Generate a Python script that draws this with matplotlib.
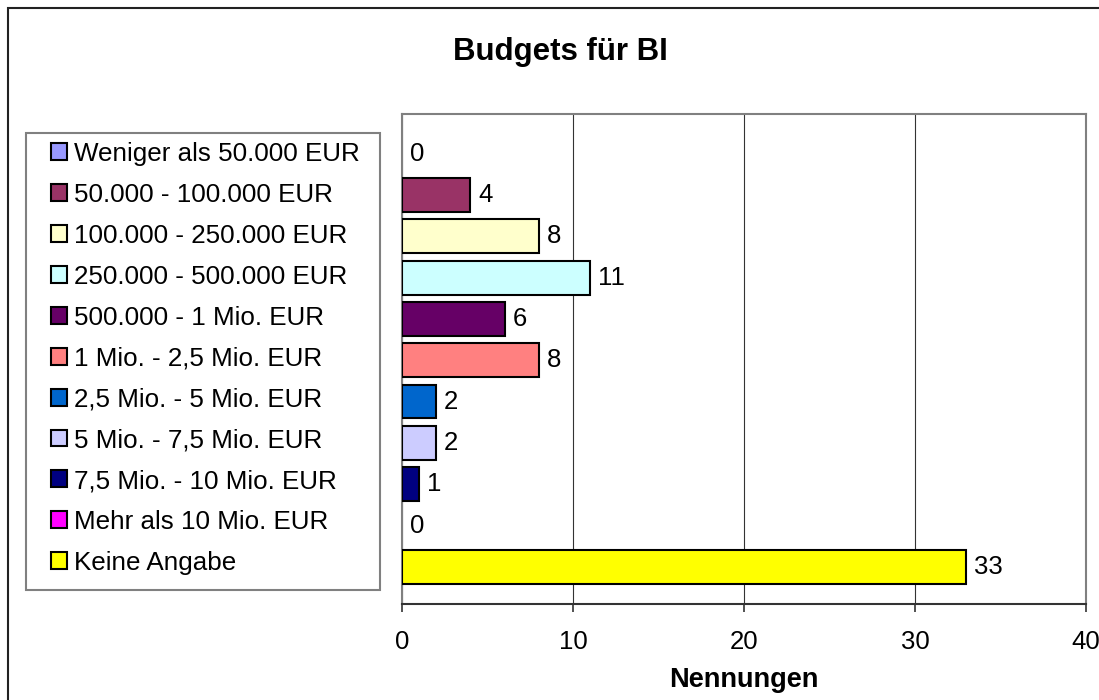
import matplotlib
matplotlib.use("Agg")
import matplotlib.pyplot as plt
from matplotlib.patches import Patch, Rectangle

plt.rcParams["font.family"] = ["Liberation Sans", "DejaVu Sans"]

# budget classes and number of mentions
categories = [
    "Weniger als 50.000 EUR",
    "50.000 - 100.000 EUR",
    "100.000 - 250.000 EUR",
    "250.000 - 500.000 EUR",
    "500.000 - 1 Mio. EUR",
    "1 Mio. - 2,5 Mio. EUR",
    "2,5 Mio. - 5 Mio. EUR",
    "5 Mio. - 7,5 Mio. EUR",
    "7,5 Mio. - 10 Mio. EUR",
    "Mehr als 10 Mio. EUR",
    "Keine Angabe",
]
values = [0, 4, 8, 11, 6, 8, 2, 2, 1, 0, 33]
colors = ["#9999FF", "#993366", "#FFFFCC", "#CCFFFF", "#660066", "#FF8080",
          "#0066CC", "#CCCCFF", "#000080", "#FF00FF", "#FFFF00"]
xticks = [0, 10, 20, 30, 40]

W, H = 1099, 700
fig = plt.figure(figsize=(W / 100, H / 100), dpi=100)
ax = fig.add_axes([402 / W, 1 - 604 / H, (1086 - 402) / W, (604 - 114) / H])

ypos = list(range(len(categories)))
ax.barh(ypos, values, height=0.82, color=colors, edgecolor="black",
        linewidth=[1.5 if v > 0 else 0 for v in values], zorder=3)
for y, v in zip(ypos, values):
    ax.text(v + 0.45, y, str(v), va="center", ha="left", fontsize=18.5, zorder=4)

ax.set_xlim(0, 40)
ax.set_ylim(10.9, -0.96)
ax.set_xticks(xticks)
ax.set_xticklabels([str(t) for t in xticks], fontsize=18.5)
ax.set_yticks([])
ax.tick_params(axis="x", length=6, width=1.2, pad=13, color="#333333")
ax.xaxis.grid(True, color="#333333", linewidth=0.8, zorder=0)
ax.set_axisbelow(True)
for s in ("top", "right", "left"):
    ax.spines[s].set_color("#808080")
    ax.spines[s].set_linewidth(1.5)
ax.spines["bottom"].set_color("#333333")
ax.spines["bottom"].set_linewidth(1.5)

fig.text(560 / W, 1 - 52 / H, "Budgets für BI", ha="center", va="center",
         fontsize=22.5, fontweight="bold")
fig.text(744 / W, 1 - 680 / H, "Nennungen", ha="center", va="center",
         fontsize=19.5, fontweight="bold")

handles = [Patch(facecolor=c, edgecolor="black", linewidth=1.5, label=l)
           for c, l in zip(colors, categories)]
leg = fig.legend(handles=handles, loc="upper left",
                 bbox_to_anchor=(51 / W, 1 - 142 / H), fontsize=18.7,
                 frameon=False, handlelength=0.62, handleheight=0.62,
                 handletextpad=0.28, labelspacing=0.65, borderpad=0,
                 borderaxespad=0)

# legend frame drawn separately (Excel-style, wider than its content)
fig.patches.append(Rectangle((26 / W, 1 - 590 / H), (380 - 26) / W,
                             (590 - 133) / H, transform=fig.transFigure,
                             fill=False, edgecolor="#808080", linewidth=1.5))

# outer chart border (cut off at right and bottom)
fig.patches.append(Rectangle((8 / W, -0.05), 1.1, 1 - 8 / H + 0.05,
                             transform=fig.transFigure, fill=False,
                             edgecolor="#222222", linewidth=1.5))

fig.savefig("out.png", dpi=100, facecolor="white")
